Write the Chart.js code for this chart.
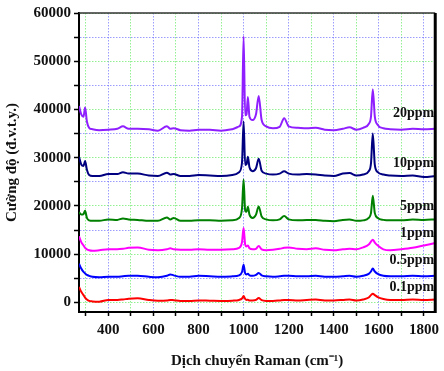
<!DOCTYPE html>
<html>
<head>
<meta charset="utf-8">
<script src="https://cdn.jsdelivr.net/npm/chart.js@4"></script>
<style>
  html, body { margin: 0; padding: 0; background: #fff; }
  #wrap { width: 444px; height: 371px; }
</style>
</head>
<body>
<div id="wrap"><canvas id="ramanChart"></canvas></div>
<script>
// Raman shift (cm-1) shared by all spectra
const wavenumber = [270, 280, 290, 297, 305, 315, 330, 360, 400, 440,
    465, 490, 530, 580, 620, 660, 675, 690, 720, 760,
    800, 850, 900, 950, 980, 993, 1000, 1007, 1013, 1019,
    1026, 1040, 1055, 1067, 1080, 1100, 1130, 1160, 1180, 1200,
    1240, 1280, 1320, 1360, 1400, 1440, 1470, 1500, 1530, 1555,
    1565, 1573, 1582, 1595, 1620, 1650, 1700, 1750, 1800, 1850];

const ppm01 = [3200, 2200, 1500, 1000, 600, 300, 200, 150, 500, 500,
    600, 750, 850, 500, 350, 400, 500, 450, 300, 300,
    400, 350, 300, 350, 500, 800, 1300, 700, 500, 550,
    400, 400, 500, 900, 450, 300, 300, 400, 500, 500,
    400, 500, 600, 400, 400, 500, 600, 400, 600, 1000,
    1500, 1800, 1500, 1100, 700, 500, 500, 600, 500, 600];

const ppm05 = [8000, 7000, 6300, 6000, 5700, 5500, 5300, 5200, 5300, 5300,
    5400, 5500, 5500, 5300, 5200, 5500, 5800, 5600, 5300, 5300,
    5500, 5400, 5300, 5400, 5600, 6300, 7800, 6000, 5800, 5950,
    5600, 5500, 5700, 6100, 5600, 5400, 5300, 5400, 5500, 5500,
    5400, 5400, 5500, 5300, 5300, 5400, 5500, 5300, 5500, 5900,
    6400, 7000, 6400, 5900, 5500, 5400, 5400, 5500, 5400, 5500];

const ppm1 = [13700, 12500, 11800, 11300, 11000, 10800, 10700, 10800, 11000, 11000,
    11100, 11300, 11400, 10900, 10800, 11000, 11200, 11000, 10900, 10900,
    11000, 10900, 10900, 11000, 11300, 12500, 15400, 12000, 11600, 11800,
    11200, 11000, 11100, 11700, 11000, 10800, 10900, 11100, 11300, 11400,
    11100, 11000, 11200, 10900, 10800, 11000, 11100, 11000, 11400, 12000,
    12600, 13000, 12400, 11800, 11000, 10800, 11000, 11300, 11800, 12300];

const ppm5 = [18700, 18200, 18300, 19000, 17500, 17000, 16900, 16900, 17200, 17100,
    17400, 17200, 17100, 16900, 16900, 17600, 17200, 17500, 16900, 16900,
    17000, 17000, 16900, 17000, 17500, 19500, 25500, 19000, 18800, 19800,
    18200, 17500, 18200, 19900, 17800, 17200, 17000, 17200, 17900, 17200,
    17000, 17100, 17100, 16900, 16800, 17100, 17200, 16900, 17000, 17500,
    18500, 22100, 18500, 17500, 17100, 17000, 17000, 17200, 17100, 17200];

const ppm10 = [30200, 28600, 28300, 29300, 27500, 26400, 26200, 26200, 26600, 26600,
    27000, 26700, 26700, 26300, 26200, 26900, 26500, 26600, 26200, 26200,
    26400, 26300, 26200, 26400, 27000, 29000, 37500, 28500, 28600, 30200,
    28000, 27200, 27800, 29800, 27300, 26700, 26500, 26700, 27200, 26700,
    26500, 26600, 26500, 26300, 26200, 26700, 26800, 26300, 26500, 27200,
    28800, 35000, 28500, 27000, 26500, 26300, 26200, 26300, 26000, 26200];

const ppm20 = [40700, 39000, 38500, 40400, 37500, 36200, 35900, 35700, 35800, 36000,
    36500, 36000, 36000, 35900, 35600, 36500, 36000, 36100, 35700, 35600,
    35800, 35800, 35600, 35900, 36500, 38500, 55200, 38800, 39000, 42600,
    38500, 37800, 39000, 42800, 37800, 36500, 36100, 36400, 38200, 36500,
    36200, 36100, 36200, 35800, 35700, 36000, 36300, 35800, 36200, 37000,
    38500, 44200, 38500, 36800, 36100, 35900, 35800, 36000, 35900, 36000];

const seriesNames = ['0.1ppm', '0.5ppm', '1ppm', '5ppm', '10ppm', '20ppm'];
const seriesValues = [ppm01, ppm05, ppm1, ppm5, ppm10, ppm20];

const xTicks = [300, 400, 500, 600, 700, 800, 900, 1000, 1100, 1200, 1300, 1400, 1500, 1600, 1700, 1800];
const yTicks = [0, 5000, 10000, 15000, 20000, 25000, 30000, 35000, 40000, 45000, 50000, 55000, 60000];

const lineColors = ['#ff0000', '#0000ff', '#ff00ff', '#008000', '#000080', '#8f1fff'];
// label anchor heights (data units) next to each trace
const labelLevels = [3200, 8600, 14300, 19800, 28900, 39200];

const serif = "'Liberation Serif', 'Times New Roman', serif";
const gridBlue = 'rgba(90, 90, 255, 0.6)';
const gridGreen = 'rgba(110, 235, 110, 0.75)';

const frameAndLabels = {
    id: 'frameAndLabels',
    afterDatasetsDraw(chart) {
        const { ctx, chartArea, scales } = chart;
        ctx.save();
        ctx.font = 'bold 14px ' + serif;
        ctx.fillStyle = '#111';
        ctx.textAlign = 'right';
        ctx.textBaseline = 'middle';
        seriesNames.forEach((name, i) => {
            ctx.fillText(name, chartArea.right - 1, scales.y.getPixelForValue(labelLevels[i]));
        });
        // top and right frame
        ctx.strokeStyle = '#333';
        ctx.lineWidth = 1.5;
        ctx.beginPath();
        ctx.moveTo(chartArea.left, chartArea.top);
        ctx.lineTo(chartArea.right, chartArea.top);
        ctx.stroke();
        ctx.strokeStyle = '#000';
        ctx.lineWidth = 3;
        ctx.beginPath();
        ctx.moveTo(chartArea.right, chartArea.top);
        ctx.lineTo(chartArea.right, chartArea.bottom + 1);
        ctx.stroke();
        ctx.restore();
    }
};

const ctx = document.getElementById('ramanChart').getContext('2d');

new Chart(ctx, {
    type: 'line',
    data: {
        datasets: seriesValues.map((vals, i) => ({
            label: seriesNames[i],
            data: wavenumber.map((w, j) => ({ x: w, y: vals[j] })),
            borderColor: lineColors[i],
            borderWidth: 2,
            pointRadius: 0,
            cubicInterpolationMode: 'monotone',
            fill: false
        }))
    },
    options: {
        responsive: true,
        maintainAspectRatio: false,
        animation: false,
        layout: { padding: { top: 13, right: 1, left: 0, bottom: 0 } },
        plugins: {
            legend: { display: false },
            tooltip: { enabled: false }
        },
        scales: {
            x: {
                type: 'linear',
                min: 270,
                max: 1850,
                afterBuildTicks: (scale) => { scale.ticks = xTicks.map(v => ({ value: v })); },
                afterFit: (scale) => { scale.height = 59; },
                ticks: {
                    color: '#111',
                    padding: 5,
                    maxRotation: 0,
                    autoSkip: false,
                    font: { family: serif, size: 15, weight: 'bold' },
                    callback: (v) => (v % 200 === 0 ? String(v) : '')
                },
                grid: {
                    color: (c) => (c.tick && c.tick.value % 200 === 0 ? gridBlue : gridGreen),
                    lineWidth: 1,
                    tickLength: 4,
                    tickColor: '#000',
                    tickWidth: 1.5
                },
                border: { display: true, color: '#000', width: 2, dash: [1.5, 1.5] },
                title: {
                    display: true,
                    text: 'Dịch chuyển Raman (cm⁻¹)',
                    color: '#111',
                    font: { family: serif, size: 15, weight: 'bold' },
                    padding: { top: 0, bottom: 1 }
                }
            },
            y: {
                min: -2000,
                max: 60000,
                afterBuildTicks: (scale) => { scale.ticks = yTicks.map(v => ({ value: v })); },
                afterFit: (scale) => { scale.width = 79; },
                ticks: {
                    color: '#111',
                    padding: 3,
                    autoSkip: false,
                    font: { family: serif, size: 15, weight: 'bold' },
                    callback: (v) => (v % 10000 === 0 ? String(v) : '')
                },
                grid: {
                    color: (c) => (c.tick && c.tick.value % 10000 === 0 ? gridGreen : gridBlue),
                    lineWidth: 1,
                    tickLength: 5,
                    tickColor: '#000',
                    tickWidth: 1.5
                },
                border: { display: true, color: '#000', width: 2, dash: [1.5, 1.5] },
                title: {
                    display: true,
                    text: 'Cường độ (đ.v.t.y.)',
                    color: '#111',
                    font: { family: serif, size: 15, weight: 'bold' },
                    padding: { top: 3, bottom: 0 }
                }
            }
        }
    },
    plugins: [frameAndLabels]
});
</script>
</body>
</html>
